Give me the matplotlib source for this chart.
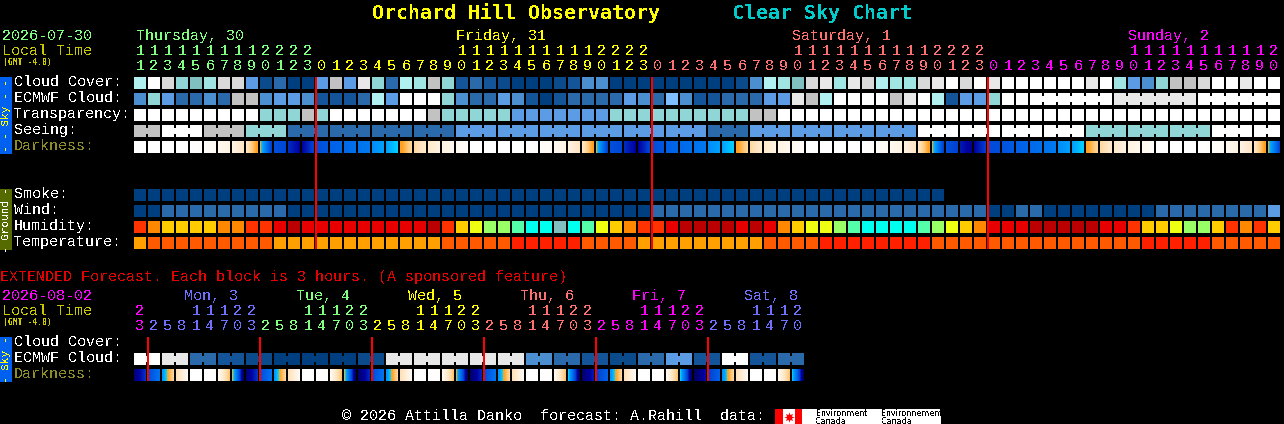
import matplotlib
matplotlib.use("Agg")
import matplotlib.pyplot as plt
import numpy as np
from matplotlib.colors import LinearSegmentedColormap

plt.rcParams["text.antialiased"] = False

# ---------- data ----------
title_left = "Orchard Hill Observatory"
title_right = "Clear Sky Chart"

main_hours = [11,12,13,14,15,16,17,18,19,20,21,22,23,
              0,1,2,3,4,5,6,7,8,9,10,11,12,13,14,15,16,17,18,19,20,21,22,23,
              0,1,2,3,4,5,6,7,8,9,10,11,12,13,14,15,16,17,18,19,20,21,22,23,
              0,1,2,3,4,5,6,7,8,9,10,11,12,13,14,15,16,17,18,19,20]
main_days = ["Thursday, 30", "Friday, 31", "Saturday, 1", "Sunday, 2"]
main_day_sizes = [13, 24, 24, 21]

ext_hours = [23, 2,5,8,11,14,17,20,23, 2,5,8,11,14,17,20,23, 2,5,8,11,14,17,20,23,
             2,5,8,11,14,17,20,23, 2,5,8,11,14,17,20,23, 2,5,8,11,14,17,20]
ext_days = ["Mon, 3", "Tue, 4", "Wed, 5", "Thu, 6", "Fri, 7", "Sat, 8"]
ext_day_sizes = [1, 8, 8, 8, 8, 8, 7]

cloud_palette = ["#003F7F","#0B4B8B","#135598","#2A69AA","#4C8FD0","#5C9CE4","#7FBFFF",
                 "#80C0C0","#90D6D6","#A0E4E4","#B0F0F0","#C2C2C2","#D9D9D9","#E8E8E8","#FFFFFF"]

cloud_cover = [10,14,12,8,7,9,12,12,5,1,3,0,0,5,11,5,13,8,3,10,9,11,8,2,3,2,1,0,0,0,1,2,4,4,
               0,0,0,0,0,0,0,0,0,1,4,10,9,7,12,13,9,13,12,10,9,9,12,13,14,12,14,13,14,14,14,14,
               14,14,13,14,9,5,4,8,11,11,12,14,14,13,14,14]
ecmwf_cloud = [4,8,5,3,3,4,3,11,11,4,5,5,4,2,2,2,3,10,5,14,14,14,8,4,3,3,5,4,2,0,2,3,3,3,3,5,4,
               3,6,4,2,2,3,3,3,5,5,13,11,10,14,14,14,14,11,13,14,10,2,5,5,8,14,14,
               14,14,14,14,14,14,13,13,13,13,13,13,14,14,14,14,14,14]
transparency = [14,14,14,14,14,14,14,14,14,8,8,8,11,8,14,14,14,14,14,14,14,11,8,8,8,8,8,
                5,5,5,5,5,5,5,8,8,8,8,8,8,8,8,8,8,11,11,
                14,14,14,14,14,14,14,14,14,14,14,14,14,14,14,14,14,14,14,14,14,14,14,14,14,14,
                14,14,14,14,14,14,14,14,14,14]
seeing = [11,11, 14,14,14, 11,11,11, 8,8,8, 3,3,3, 3,3,3, 3,3,3, 3,3,3,
          5,5,5, 5,5,5, 5,5,5, 5,5,5, 5,5,5, 5,5,5, 3,3,3, 5,5,5, 5,5,5, 5,5,5, 5,5,5,
          14,14,14, 14,14,14, 14,14,14, 14,14,14, 8,8,8, 8,8,8, 8,8,8, 14,14,14, 14,14]
smoke = [0] * 58
wind = [0,0,3,3,3,3,3,3,3,3,3,0,0,0,0,0,0,0,0,0,0,0,0,0,0,0,0,0,0,0,0,0,0,0,0,0,0,
        3,3,3,3,3,3,3,3,3,3,3,3,3,3,3,3,3,3,3,3,3,3,3,3,
        0,0,3,3,0,0,0,0,0,0,0,0,3,3,3,3,3,3,3,3,5]

humidity_palette = ["#BA0000","#E80000","#FF3300","#FF8800","#FFCC00","#EEFF11",
                    "#99FF66","#55FFAA","#00FFEE","#80C0C0"]
humidity = [2,3,4,4,4,4,3,3,2,2,1,0,1,1,1,1,1,1,1,1,1,0,2,4,5,6,6,7,8,8,9,8,7,5,4,3,2,
            2,1,0,0,0,0,1,0,1,3,4,5,5,6,7,8,8,8,8,7,6,5,4,3,
            1,1,1,0,0,0,0,0,1,1,2,4,4,5,6,6,4,2,3,2,4]
temperature_palette = ["#FFA000","#FF5A00","#FF2000"]
temperature = [0,1,1,1,1,1,1,1,1,1,0,0,0,0,0,0,0,0,0,0,0,0,1,1,1,1,1,2,2,2,2,2,1,1,1,1,0,
               0,0,0,0,0,0,0,0,1,1,1,1,2,2,2,2,2,2,2,2,1,1,1,1,
               1,1,1,1,1,1,1,1,1,1,1,2,2,2,2,2,1,1,1,1,1]

dark_start = [0,0,0,0,0,.1,.4,1,1.8,4.2,7.5,8.3,9,
              7.6,7,6.7,6.4,5.6,5,4.2,2.5,1.6,.9,.4,0,0,0,0,0,.1,.4,1,1.8,4.2,7.5,8.3,9,
              7.6,7,6.7,6.4,5.6,5,4.2,2.5,1.6,.9,.4,0,0,0,0,0,.1,.4,1,1.8,4.2,7.5,8.6,9,
              7.6,7.4,7,6.7,6.4,5.6,5,4.2,2.5,1.6,1,.4,0,0,0,0,.1,.4,1,1.8,4.2]
dark_end = [0,0,0,0,.1,.3,.9,1.8,4.2,8,7.8,9,7.9,
            7.3,6.8,6.5,6.2,5,4.4,2.6,1.6,1,.5,.1,0,0,0,0,.1,.3,.9,1.8,4.2,8,7.8,9,7.9,
            7.3,6.8,6.5,6.2,5,4.4,2.6,1.6,1,.5,.1,0,0,0,0,.1,.3,.9,1.8,4.2,8,8,9.2,8,
            7.6,7.2,6.8,6.5,6.2,5,4.4,2.6,1.6,1,.5,.1,0,0,0,.1,.3,.9,1.8,4.2,7.8]

ext_dark_start = [9.6,7.6,5.3,2.2,0,0,.3,3.9, 9.6,7.6,5.3,2.2,0,0,.3,3.9,
                  9.8,7.6,5.4,2.2,0,0,.3,4.2, 9.8,7.6,5.4,2.2,0,0,.3,4.4,
                  9.8,8,5.4,2.2,0,0,.3,4.4, 10,8,5.5,2.2,0,0,.3,4.5]
ext_dark_end =   [8.2,6.4,2.6,.3,0,.1,3.2,10, 8.2,6.4,2.6,.3,0,.1,3.2,10,
                  8.4,6.4,2.6,.3,0,.1,3.2,10, 8.4,6.4,2.6,.3,0,.1,3.2,10,
                  8.6,7,2.6,.3,0,.1,3.2,10, 8.8,7,2.6,.3,0,.1,3.2,10]
ext_ecmwf = [14,13,3,2,1,0,0,0,1,13,13,13,13,13,4,3,2,1,3,5,2,14,2,3]

# ---------- style / layout ----------
BG = "#000000"
MONO = "Liberation Mono"
GREEN, YEL, SALMON, MAG, PERI = "#80FF80", "#FFFF00", "#FF7070", "#FF00FF", "#7070FF"
OLIVE_TXT, LOCAL_TXT = "#8C8C28", "#C8C800"
main_day_colors = [GREEN, YEL, SALMON, MAG]
ext_cols = [MAG, PERI, GREEN, YEL, SALMON, MAG, PERI]
X0, PITCH, W = 134, 14, 12
PX = 72 / 100

dark_nodes = [(0,"#FFFFFF"),(.3,"#FFFAF2"),(1,"#FFF2E0"),(2,"#FFE4C0"),(3,"#FFCC80"),(4,"#FFA020"),
              (4.3,"#FFA020"),(4.31,"#00D8FF"),(5,"#00A0FF"),(6,"#0080F0"),(7,"#0060E8"),
              (8,"#0040D0"),(9,"#0000A0"),(10,"#000060")]
dark_cmap = LinearSegmentedColormap.from_list("dark", [(v/10, c) for v, c in dark_nodes], N=1024)

fig = plt.figure(figsize=(12.84, 4.24), dpi=100, facecolor=BG)
ax = fig.add_axes([0, 0, 1, 1])
ax.set_facecolor(BG)
ax.set_axis_off()


def txt(x, y, s, color, px=15, **kw):
    kw.setdefault("family", MONO)
    ax.text(x, y, s, color=color, fontsize=px * PX, ha=kw.pop("ha", "left"),
            va=kw.pop("va", "baseline"), **kw)


def blocks(vals, y, palette):
    xs = [X0 + PITCH * i for i in range(len(vals))]
    ax.bar(xs, W, width=W, bottom=y, align="edge", color=[palette[v] for v in vals],
           linewidth=0, antialiased=False)


def links(pairs, vals, y, palette):
    for i in pairs:
        ax.bar(X0 + PITCH * i + W, 6, width=2, bottom=y + 3, align="edge",
               color=palette[vals[i]], linewidth=0, antialiased=False)


def gradient(starts, ends, y):
    for i, (a, b) in enumerate(zip(starts, ends)):
        x = X0 + PITCH * i
        ax.imshow(np.linspace(a, b, W)[None, :], cmap=dark_cmap, vmin=0, vmax=10, aspect="auto",
                  interpolation="nearest", extent=[x, x + W, y + W, y], zorder=2)


# titles
txt(372, 19, title_left, "#FFFF00", px=20, family="DejaVu Sans Mono", fontweight="bold")
txt(732, 19, title_right, "#00CCCC", px=20, family="DejaVu Sans Mono", fontweight="bold")

# main header
txt(2, 40, "2026-07-30", GREEN)
txt(2, 55, "Local Time", LOCAL_TXT)
txt(3, 65, "(GMT -4.0)", LOCAL_TXT, px=8, family="DejaVu Sans Mono", fontweight="bold")
start = 0
for k, (name, n, c) in enumerate(zip(main_days, main_day_sizes, main_day_colors)):
    label_x = X0 + 2 if k == 0 else X0 + PITCH * (start + 10)
    txt(label_x, 40, name, c)
    for i in range(start, start + n):
        h = main_hours[i]
        if h >= 10:
            txt(X0 + 6 + PITCH * i, 55, str(h // 10), c, ha="center")
        txt(X0 + 6 + PITCH * i, 70, str(h % 10), c, ha="center")
    start += n

# row labels
for lab, yb, c in [("Cloud Cover:", 86, "w"), ("ECMWF Cloud:", 102, "w"), ("Transparency:", 118, "w"),
                   ("Seeing:", 134, "w"), ("Darkness:", 150, OLIVE_TXT),
                   ("Smoke:", 198, "w"), ("Wind:", 214, "w"), ("Humidity:", 230, "w"),
                   ("Temperature:", 246, "w"),
                   ("Cloud Cover:", 346, "w"), ("ECMWF Cloud:", 362, "w"), ("Darkness:", 378, OLIVE_TXT)]:
    txt(14, yb, lab, c)

# main rows
blocks(cloud_cover, 77, cloud_palette)
blocks(ecmwf_cloud, 93, cloud_palette)
links([i for i in range(64, 81) if i not in (69, 75)], ecmwf_cloud, 93, cloud_palette)
blocks(transparency, 109, cloud_palette)
blocks(seeing, 125, cloud_palette)
links([i for i in range(81) if (i + 1) % 3 != 2], seeing, 125, cloud_palette)
gradient(dark_start, dark_end, 141)
blocks(smoke, 189, cloud_palette)
blocks(wind, 205, cloud_palette)
blocks(humidity, 221, humidity_palette)
blocks(temperature, 237, temperature_palette)

# extended
txt(0, 281, "EXTENDED Forecast. Each block is 3 hours. (A sponsored feature)", "#E80000")
txt(2, 300, "2026-08-02", MAG)
txt(2, 315, "Local Time", LOCAL_TXT)
txt(3, 325, "(GMT -4.0)", LOCAL_TXT, px=8, family="DejaVu Sans Mono", fontweight="bold")
start = 0
for k, (n, c) in enumerate(zip(ext_day_sizes, ext_cols)):
    if k:
        txt(X0 + 50 + 112 * (k - 1), 300, ext_days[k - 1], c)
    for i in range(start, start + n):
        h = ext_hours[i]
        if h >= 10:
            txt(X0 + 6 + PITCH * i, 315, str(h // 10), c, ha="center")
        txt(X0 + 6 + PITCH * i, 330, str(h % 10), c, ha="center")
    start += n

ext_x = [X0 + 2 * PITCH * i for i in range(len(ext_ecmwf))]
ax.bar(ext_x, W, width=2 * W + 2, bottom=353, align="edge",
       color=[cloud_palette[v] for v in ext_ecmwf], linewidth=0, antialiased=False)
for x, v in zip(ext_x, ext_ecmwf):
    ax.bar(x + W, 3, width=2, bottom=353, align="edge", color=BG, linewidth=0, antialiased=False, zorder=3)
    ax.bar(x + W, 3, width=2, bottom=362, align="edge", color=BG, linewidth=0, antialiased=False, zorder=3)
gradient(ext_dark_start, ext_dark_end, 369)

# now / midnight markers
for i in (13, 37, 61):
    ax.bar(X0 + PITCH * i - 1, 172, width=2, bottom=77, align="edge", color="#FF0000",
           linewidth=0, antialiased=False, zorder=4)
for i in (1, 9, 17, 25, 33, 41):
    ax.bar(X0 + PITCH * i - 1, 44, width=2, bottom=337, align="edge", color="#FF0000",
           linewidth=0, antialiased=False, zorder=4)

# side bars
for y0, h, col, label, tc in [(77, 77, "#0060F0", "- - Sky - -", "#FFFF00"),
                              (189, 61, "#556B00", "- Ground -", "#FFFFFF"),
                              (337, 45, "#0060F0", "- Sky -", "#FFFF00")]:
    ax.bar(0, h, width=12, bottom=y0, align="edge", color=col, linewidth=0, antialiased=False)
    txt(6, y0 + h / 2, label, tc, px=11, rotation=90, ha="center", va="center", zorder=5)

# footer
txt(342, 420, "\u00a9 2026 Attilla Danko  forecast: A.Rahill  data:", "w")
ax.bar(775, 15, width=166, bottom=409, align="edge", color="#FFFFFF", linewidth=0, antialiased=False)
for x, w in [(775, 8), (795, 7)]:
    ax.bar(x, 15, width=w, bottom=409, align="edge", color="#FF0000", linewidth=0,
           antialiased=False, zorder=3)
ax.scatter([789], [416.5], marker=(8, 1, 0), s=55, color="#FF0000", linewidths=0, zorder=3)
for x, s in [(816, "Environment\nCanada"), (881, "Environnement\nCanada")]:
    ax.text(x, 409, s, color="k", fontsize=8 * PX, family="DejaVu Sans", va="top", ha="left",
            linespacing=0.9, zorder=3)

ax.set_xlim(0, 1284)
ax.set_ylim(424, 0)
fig.savefig("out.png", dpi=100, facecolor=BG)
